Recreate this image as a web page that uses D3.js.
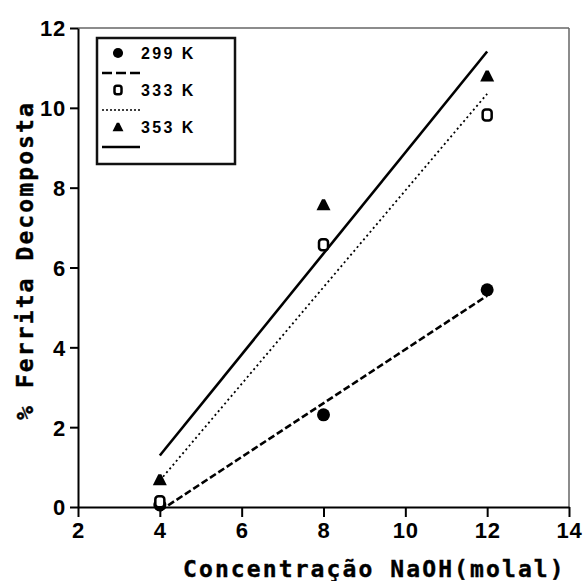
<!DOCTYPE html>
<html>
<head>
<meta charset="utf-8">
<script src="https://cdn.jsdelivr.net/npm/d3@7"></script>
<style>
  body { margin: 0; background: #fff; }
  .tick text { font-family: "Liberation Sans", Arial, sans-serif; font-weight: bold; font-size: 22px; letter-spacing: 0.8px; fill: #000; }
  .title { font-family: "DejaVu Sans Mono", monospace; font-weight: bold; font-size: 23px; letter-spacing: 2.1px; fill: #000; stroke: #000; stroke-width: 0.4px; }
  .leg { font-family: "Liberation Sans", Arial, sans-serif; font-weight: bold; font-size: 16px; letter-spacing: 2.4px; fill: #000; }
</style>
</head>
<body>
<div id="chart"></div>
<script>
// data
var concentracao = [4, 8, 12];
var k299 = [0.05, 2.31, 5.44];
var k333 = [0.13, 6.57, 9.82];
var k353 = [0.68, 7.57, 10.8];
var seriesNames = ["299 K", "333 K", "353 K"];
var xTicks = [2, 4, 6, 8, 10, 12, 14];
var yTicks = [0, 2, 4, 6, 8, 10, 12];

var svgWidth = 587;
var svgHeight = 581;

var svg = d3.select("#chart")
  .append("svg")
  .attr("width", svgWidth)
  .attr("height", svgHeight);

var x = d3.scaleLinear().domain([2, 14]).range([78, 569]);
var y = d3.scaleLinear().domain([0, 12]).range([507, 28]);

// least squares fit line for each temperature
function fit(xs, ys) {
  var mx = d3.mean(xs), my = d3.mean(ys);
  var num = d3.sum(xs, (v, i) => (v - mx) * (ys[i] - my));
  var den = d3.sum(xs, v => (v - mx) * (v - mx));
  var b = num / den;
  var a = my - b * mx;
  return [[xs[0], a + b * xs[0]], [xs[xs.length - 1], a + b * xs[xs.length - 1]]];
}

var series = [
  { name: seriesNames[0], vals: k299, dash: "7,3", width: 2.6, marker: "circle" },
  { name: seriesNames[1], vals: k333, dash: "2,3", width: 1.8, marker: "square" },
  { name: seriesNames[2], vals: k353, dash: null, width: 2.6, marker: "triangle" }
];

// frame top / right
svg.append("line")
  .attr("x1", x(2)).attr("x2", x(14)).attr("y1", y(12)).attr("y2", y(12))
  .attr("stroke", "#666").attr("stroke-width", 1.5);
svg.append("line")
  .attr("x1", x(14)).attr("x2", x(14)).attr("y1", y(12)).attr("y2", y(0))
  .attr("stroke", "#666").attr("stroke-width", 1.5);

// axes
var xAxis = d3.axisBottom(x).tickValues(xTicks).tickSize(10).tickSizeOuter(0).tickPadding(5);
var yAxis = d3.axisLeft(y).tickValues(yTicks).tickSize(8).tickSizeOuter(0).tickPadding(4);

var gx = svg.append("g").attr("transform", `translate(0, ${y(0)})`).call(xAxis);
var gy = svg.append("g").attr("transform", `translate(${x(2)}, 0)`).call(yAxis);
[gx, gy].forEach(function(g) {
  g.selectAll("path, line").attr("stroke", "#000").attr("stroke-width", 2);
});
gy.selectAll(".tick text").attr("dy", "0.36em");

// fit lines
var line = d3.line().x(d => x(d[0])).y(d => y(d[1]));
series.forEach(function(s) {
  svg.append("path")
    .attr("d", line(fit(concentracao, s.vals)))
    .attr("fill", "none")
    .attr("stroke", "#000")
    .attr("stroke-width", s.width)
    .attr("stroke-dasharray", s.dash);
});

// markers
function drawMarker(g, type, cx, cy, big) {
  var k = big ? 1 : 0.78;
  if (type === "circle") {
    g.append("circle").attr("cx", cx).attr("cy", cy).attr("r", 6.5 * k).attr("fill", "#000");
  } else if (type === "square") {
    g.append("rect")
      .attr("x", cx - 4.5 * k).attr("y", cy - 5.5 * k)
      .attr("width", 9 * k).attr("height", 11 * k).attr("rx", 3 * k)
      .attr("fill", "#fff").attr("stroke", "#000").attr("stroke-width", 2.5);
  } else {
    var w = 7 * k, h = 11 * k;
    g.append("path")
      .attr("d", `M${cx - w},${cy + h / 2} L${cx - 1.5 * k},${cy - h / 2} L${cx + 1.5 * k},${cy - h / 2} L${cx + w},${cy + h / 2} Z`)
      .attr("fill", "#000");
  }
}

series.forEach(function(s) {
  s.vals.forEach(function(v, i) {
    drawMarker(svg, s.marker, x(concentracao[i]), y(v), true);
  });
});

// legend
var leg = svg.append("g");
leg.append("rect")
  .attr("x", 97).attr("y", 38).attr("width", 138).attr("height", 126)
  .attr("fill", "#fff").attr("stroke", "#111").attr("stroke-width", 2.5);
series.forEach(function(s, i) {
  var cy = 53 + i * 37;
  drawMarker(leg, s.marker, 118, cy, false);
  leg.append("text").attr("class", "leg")
    .attr("x", 141).attr("y", cy + 6)
    .text(s.name);
  leg.append("line")
    .attr("x1", 102).attr("x2", 140).attr("y1", cy + 20).attr("y2", cy + 20)
    .attr("stroke", "#000")
    .attr("stroke-width", i === 1 ? 1.5 : 2.4)
    .attr("stroke-dasharray", i === 0 ? "10,4" : (i === 1 ? "2,2" : null));
});

// axis titles
svg.append("text").attr("class", "title")
  .attr("x", 183).attr("y", 577)
  .text("Concentração NaOH(molal)");

svg.append("text").attr("class", "title")
  .attr("transform", "rotate(-90)")
  .attr("x", -420).attr("y", 33)
  .text("% Ferrita Decomposta");
</script>
</body>
</html>
